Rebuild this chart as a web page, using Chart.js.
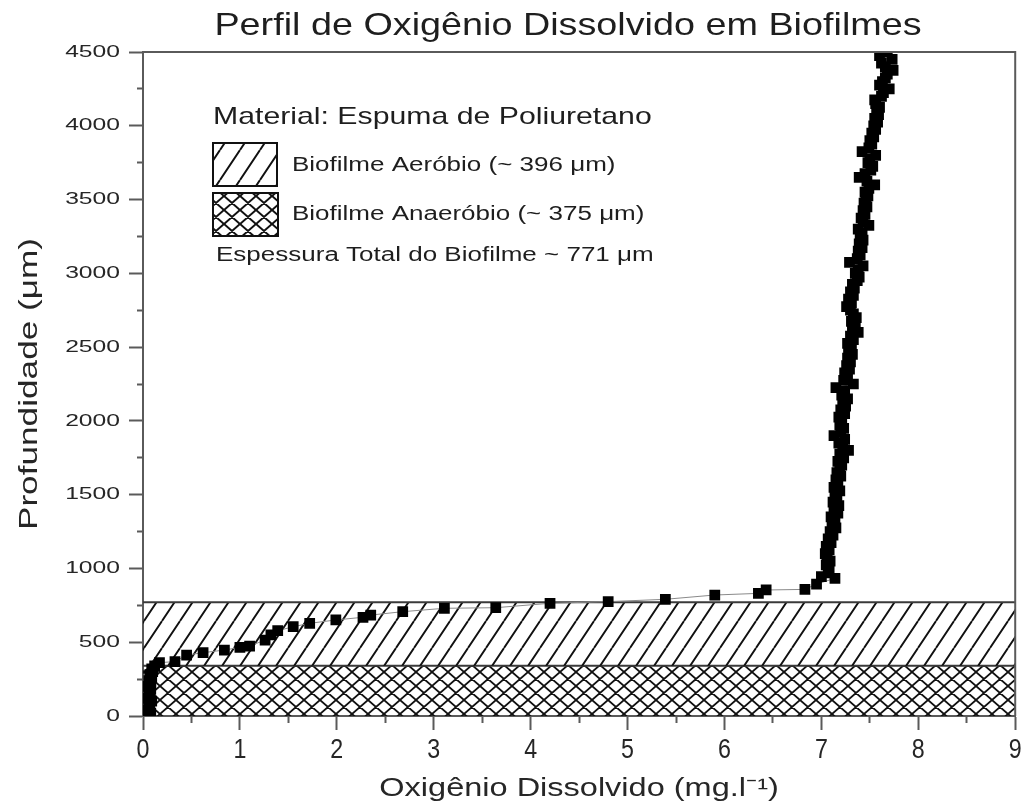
<!DOCTYPE html>
<html><head><meta charset="utf-8">
<script src="https://cdn.jsdelivr.net/npm/chart.js@4.4.1/dist/chart.umd.min.js"></script>
<style>html,body{margin:0;padding:0;background:#fff;overflow:hidden}canvas{display:block}</style>
</head><body>
<canvas id="c" width="1026" height="807"></canvas>
<script>
// ---------- text ----------
const titleText = 'Perfil de Oxigênio Dissolvido em Biofilmes';
const xAxisTitle = 'Oxigênio Dissolvido (mg.l⁻¹)';
const yAxisTitle = 'Profundidade (μm)';
const materialText = 'Material: Espuma de Poliuretano';
const totalText = 'Espessura Total do Biofilme ~ 771 μm';

// ---------- axes ----------
const xTickLabels = [0, 1, 2, 3, 4, 5, 6, 7, 8, 9];
const yTickLabels = [0, 500, 1000, 1500, 2000, 2500, 3000, 3500, 4000, 4500];
const xMinorStep = 0.5;
const yMinorStep = 250;

// ---------- biofilm zones (depth, μm) ----------
const zoneLabels = ['Biofilme Aeróbio (~ 396 μm)', 'Biofilme Anaeróbio (~ 375 μm)'];
const zoneTop = [771, 340];
const zoneBottom = [340, 0];

// ---------- measured profile: dissolved oxygen (mg/l) vs depth (μm) ----------
const oxygen = [
  0.05, 0.08, 0.05, 0.07, 0.06, 0.09, 0.05, 0.07, 0.06, 0.08,
  0.05, 0.08, 0.06, 0.09, 0.07, 0.10, 0.09, 0.12, 0.17, 0.33,
  0.45, 0.62, 0.84, 1.00, 1.10, 1.26, 1.32, 1.39, 1.55, 1.72,
  1.99, 2.27, 2.35, 2.68, 3.11, 3.64, 4.20, 4.80, 5.39, 5.90,
  6.35, 6.43, 6.83, 6.95, 7.14, 7.00, 7.07,
  7.08, 7.05, 7.09, 7.06, 7.04, 7.08, 7.05, 7.10, 7.07, 7.12,
  7.09, 7.15, 7.11, 7.14, 7.10, 7.17, 7.13, 7.18, 7.12, 7.16,
  7.14, 7.19, 7.13, 7.17, 7.15, 7.20, 7.16, 7.19, 7.21, 7.17,
  7.23, 7.19, 7.28, 7.22, 7.18, 7.24, 7.13, 7.20, 7.23, 7.19,
  7.21, 7.18, 7.24, 7.20, 7.25, 7.22, 7.27, 7.21, 7.24, 7.15,
  7.33, 7.23, 7.27, 7.24, 7.29, 7.26, 7.30, 7.27, 7.32, 7.28,
  7.31, 7.27, 7.33, 7.30, 7.38, 7.32, 7.35, 7.31, 7.36, 7.33,
  7.30, 7.26, 7.31, 7.28, 7.33, 7.30, 7.34, 7.32, 7.37, 7.39,
  7.35, 7.38, 7.43, 7.29, 7.37, 7.40, 7.38, 7.42, 7.39, 7.43,
  7.40, 7.42, 7.38, 7.49, 7.43, 7.41, 7.45, 7.43, 7.47, 7.44,
  7.46, 7.48, 7.45, 7.49, 7.55, 7.47, 7.39, 7.45, 7.51, 7.53,
  7.48, 7.50, 7.56, 7.42, 7.49, 7.52, 7.50, 7.54, 7.52, 7.56,
  7.54, 7.58, 7.55, 7.59, 7.57, 7.60, 7.56, 7.55, 7.62, 7.64,
  7.70, 7.60, 7.63, 7.66, 7.68, 7.74, 7.66, 7.62, 7.73, 7.60,
  7.68
];
const depth = [
  0, 20, 40, 60, 80, 100, 120, 140, 160, 180,
  200, 220, 240, 260, 280, 300, 320, 340, 362, 368,
  413, 429, 447, 465, 474, 515, 549, 578, 605, 628,
  651, 669, 684, 707, 730, 734, 764, 775, 791, 820,
  831, 854, 858, 894, 933, 944, 970,
  1000, 1025, 1050, 1075, 1100, 1125, 1150, 1175, 1200, 1225,
  1250, 1275, 1300, 1325, 1350, 1375, 1400, 1425, 1450, 1475,
  1500, 1525, 1550, 1575, 1600, 1625, 1650, 1675, 1700, 1725,
  1750, 1775, 1800, 1825, 1850, 1875, 1900, 1925, 1950, 1975,
  2000, 2025, 2050, 2075, 2100, 2125, 2150, 2175, 2200, 2225,
  2250, 2275, 2300, 2325, 2350, 2375, 2400, 2425, 2450, 2475,
  2500, 2525, 2550, 2575, 2600, 2625, 2650, 2675, 2700, 2725,
  2750, 2775, 2800, 2825, 2850, 2875, 2900, 2925, 2950, 2975,
  3000, 3025, 3050, 3075, 3100, 3125, 3150, 3175, 3200, 3225,
  3250, 3275, 3300, 3325, 3350, 3375, 3400, 3425, 3450, 3475,
  3500, 3525, 3550, 3575, 3600, 3625, 3650, 3675, 3700, 3725,
  3750, 3775, 3800, 3825, 3850, 3875, 3900, 3925, 3950, 3975,
  4000, 4025, 4050, 4075, 4100, 4125, 4150, 4175, 4200, 4225,
  4250, 4275, 4300, 4325, 4350, 4375, 4400, 4425, 4450, 4475,
  4500
];

// ---------- horizontal text stretch (reference text is drawn wide) ----------
const textStretch = {'32': 1.18, '17': 1.45, '28': 0.83, '26': 1.25, '25.5': 1.38, '24': 1.26, '20': 1.3};
(function () {
  const proto = CanvasRenderingContext2D.prototype;
  const orig = proto.fillText;
  proto.fillText = function (text, x, y, maxWidth) {
    const m = /(\d+(?:\.\d+)?)px/.exec(this.font);
    const sx = m ? textStretch[m[1]] : undefined;
    if (!sx || sx === 1) return orig.apply(this, arguments);
    this.save();
    this.translate(x, y);
    this.scale(sx, 1);
    if (maxWidth === undefined) orig.call(this, text, 0, 0);
    else orig.call(this, text, 0, 0, maxWidth / sx);
    this.restore();
  };
})();

const FONT = "'Liberation Sans', Arial, Helvetica, sans-serif";
const canvas = document.getElementById('c');
const ctx = canvas.getContext('2d');

function makeHatch(w, h, lw, color, cross) {
  const c = document.createElement('canvas');
  c.width = w; c.height = h;
  const g = c.getContext('2d');
  g.strokeStyle = color; g.lineWidth = lw;
  g.beginPath();
  for (let k = -1; k <= 1; k++) {
    g.moveTo(k * w, h); g.lineTo(k * w + w, 0);
    if (cross) { g.moveTo(k * w, 0); g.lineTo(k * w + w, h); }
  }
  g.stroke();
  return ctx.createPattern(c, 'repeat');
}
const diagPattern = makeHatch(18, 27, 1.9, '#111', false);
const crossPattern = makeHatch(16, 14, 1.8, '#111', true);
const diagLegend = makeHatch(20, 30, 2, '#111', false);
const crossLegend = makeHatch(16, 14, 2, '#111', true);
const zonePatterns = [diagPattern, crossPattern];
const legendPatterns = [diagLegend, crossLegend];

const profile = oxygen.map((v, i) => ({x: v, y: depth[i]}));
const xMin = xTickLabels[0], xMax = xTickLabels[xTickLabels.length - 1];
const yMin = yTickLabels[0], yMax = yTickLabels[yTickLabels.length - 1];

const zoneDatasets = zoneLabels.map((lab, i) => ({
  label: lab,
  data: [{x: xMin, y: zoneTop[i]}, {x: xMax, y: zoneTop[i]}],
  showLine: true, pointRadius: 0, borderColor: '#3a3a3a', borderWidth: 2,
  backgroundColor: zonePatterns[i],
  fill: zoneBottom[i] === yMin ? 'origin' : {value: zoneBottom[i]},
  order: 2 + i
}));

const framePlugin = {
  id: 'frame',
  afterDraw(chart) {
    const a = chart.chartArea, g = chart.ctx;
    g.save();
    g.strokeStyle = '#5a5a5a'; g.lineWidth = 2;
    g.beginPath();
    g.moveTo(a.left, a.top); g.lineTo(a.right, a.top); g.lineTo(a.right, a.bottom);
    g.stroke();
    g.restore();
  }
};

const textPlugin = {
  id: 'texts',
  afterDraw(chart) {
    const g = chart.ctx;
    g.save();
    // chart title, centred over the plot
    g.fillStyle = '#1e1e1e';
    g.textBaseline = 'middle'; g.textAlign = 'center';
    g.font = '32px ' + FONT;
    g.fillText(titleText, 568, 26);
    // legend block
    g.textAlign = 'left';
    g.font = '24px ' + FONT;
    g.fillText(materialText, 213, 117);
    const boxes = [[213, 143, 64, 43], [213, 193, 65, 43]];
    const textY = [165, 214];
    g.font = '20px ' + FONT;
    zoneLabels.forEach((lab, i) => {
      const b = boxes[i];
      g.fillStyle = '#fff'; g.fillRect(b[0], b[1], b[2], b[3]);
      g.fillStyle = legendPatterns[i]; g.fillRect(b[0], b[1], b[2], b[3]);
      g.strokeStyle = '#111'; g.lineWidth = 2; g.strokeRect(b[0], b[1], b[2], b[3]);
      g.fillStyle = '#1e1e1e';
      g.fillText(lab, 292, textY[i]);
    });
    g.fillText(totalText, 216, 255);
    g.restore();
  }
};

new Chart(ctx, {
  type: 'scatter',
  data: {
    datasets: [{
      label: 'Perfil',
      data: profile,
      showLine: true, tension: 0,
      borderColor: '#8a8a8a', borderWidth: 1,
      pointStyle: 'rect', pointRadius: 7.6, pointHoverRadius: 7.6,
      pointBackgroundColor: '#000', pointBorderColor: '#000', pointBorderWidth: 0,
      order: 0
    }, ...zoneDatasets]
  },
  options: {
    responsive: false, animation: false, devicePixelRatio: 1, events: [],
    layout: {padding: {left: 0, right: 8, top: 52, bottom: 0}},
    plugins: {
      legend: {display: false}, tooltip: {enabled: false}, title: {display: false}
    },
    scales: {
      x: {
        type: 'linear', min: xMin, max: xMax, z: 1,
        afterFit(s) { s.height = 91; },
        border: {display: true, color: '#5a5a5a', width: 2},
        grid: {
          display: true, drawOnChartArea: false, drawTicks: true, tickLength: 14,
          tickColor: '#5a5a5a', tickWidth: 2,
          tickBorderDash: (c) => (c.tick && xTickLabels.includes(c.tick.value)) ? [] : [6, 100]
        },
        ticks: {
          stepSize: xMinorStep, autoSkip: false, maxRotation: 0, padding: 3,
          color: '#262626', font: {family: FONT, size: 28},
          callback: (v) => xTickLabels.includes(v) ? String(v) : ''
        },
        title: {
          display: true, text: xAxisTitle, color: '#262626',
          font: {family: FONT, size: 26}, padding: {top: 0, bottom: 3}
        }
      },
      y: {
        type: 'linear', min: yMin, max: yMax, z: 1,
        afterFit(s) { s.width = 143; },
        border: {display: true, color: '#5a5a5a', width: 2},
        grid: {
          display: true, drawOnChartArea: false, drawTicks: true, tickLength: 14,
          tickColor: '#5a5a5a', tickWidth: 2,
          tickBorderDash: (c) => (c.tick && yTickLabels.includes(c.tick.value)) ? [] : [0, 8, 6, 100]
        },
        ticks: {
          stepSize: yMinorStep, autoSkip: false, padding: 9,
          color: '#262626', font: {family: FONT, size: 17},
          callback: (v) => yTickLabels.includes(v) ? String(v) : ''
        },
        title: {
          display: true, text: yAxisTitle, color: '#262626',
          font: {family: FONT, size: 25.5}, padding: {top: 15, bottom: 0}
        }
      }
    }
  },
  plugins: [framePlugin, textPlugin]
});
</script>
</body></html>
